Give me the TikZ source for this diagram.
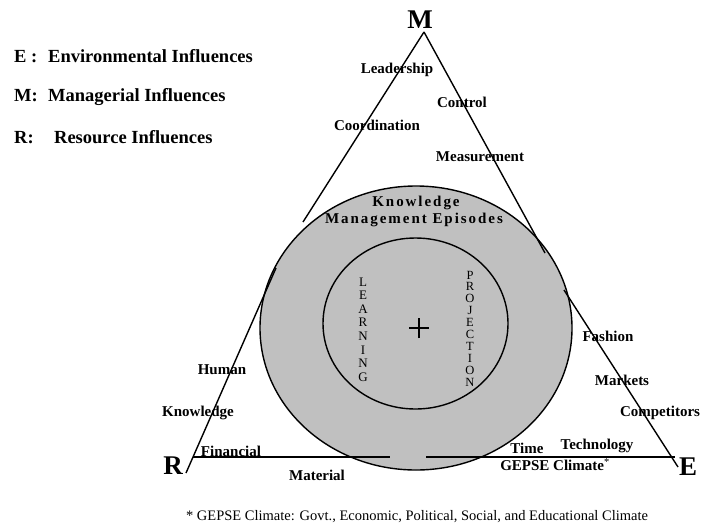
\documentclass[tikz,border=0pt]{standalone}
\usepackage{fontspec}
\setmainfont{Liberation Serif}
\newfontfamily\lsfont[LetterSpace=13]{Liberation Serif}
\begin{document}
\begin{tikzpicture}[x=1pt,y=-1pt,
  edge/.style={line width=1.4pt,black},
  lbl/.style={inner sep=0pt,font=\fontsize{15}{17}\selectfont\bfseries},
  vertex/.style={inner sep=0pt,font=\fontsize{27}{29}\selectfont\bfseries},
  legend/.style={inner sep=0pt,anchor=west,font=\fontsize{18.5}{20}\selectfont\bfseries},
  vert/.style={inner sep=0pt,align=center,font=\fontsize{13}{13.6}\selectfont},
  ring/.style={line width=1.4pt,draw=black}]
\useasboundingbox (0,0) rectangle (701,523);
% legend
\node[legend] (legE) at (14,56) {\makebox[34pt][l]{E :}Environmental Influences};
\node[legend] (legM) at (14,97) {\makebox[34pt][l]{M:}Managerial Influences};
\node[legend] (legR) at (14,137) {\makebox[40pt][l]{R:}Resource Influences};
% circles
\fill[fill={rgb,255:red,192;green,192;blue,192}] (416,328) ellipse [x radius=156, y radius=142];
\draw[ring] (416,328) ellipse [x radius=156, y radius=142];
\draw[ring] (415.5,323.5) ellipse [x radius=92.5, y radius=85.5];
\coordinate (cen) at (419,328);
\draw[line width=1.2pt] ([xshift=-10pt]cen) -- ([xshift=10pt]cen) ([yshift=-10pt]cen) -- ([yshift=10pt]cen);
% triangle
\coordinate (Mtop) at (424,32);
\coordinate (Lt) at (303,222);
\coordinate (Lb) at (276,268);
\coordinate (Rb) at (186,473);
\coordinate (Rt1) at (545,253);
\coordinate (Rt2) at (564,290);
\coordinate (Eb) at (678,467);
\coordinate (B1) at (193,457);
\coordinate (B2) at (390,457);
\coordinate (B3) at (426,457);
\coordinate (B4) at (675,457);
\draw[edge] (Mtop) -- (Lt);
\draw[edge] (Lb) -- (Rb);
\draw[edge] (Mtop) -- (Rt1);
\draw[edge] (Rt2) -- (Eb);
\draw[edge] (B1) -- (B2);
\draw[edge] (B3) -- (B4);
% vertices
\node[vertex] (M) at (420,20) {M};
\node[vertex] (R) at (173,466) {R};
\node[vertex] (E) at (688,467) {E};
% labels
\node[lbl] (lead) at (397,70) {Leadership};
\node[lbl] (ctrl) at (462,102) {Control};
\node[lbl] (coord) at (377,125) {Coordination};
\node[lbl] (meas) at (480,157) {Measurement};
\node[lbl,font=\fontsize{15}{17}\lsfont\bfseries] (kme1) at (416,203) {Knowledge};
\node[lbl,font=\fontsize{15}{17}\lsfont\bfseries] (kme2) at (414,220) {Management Episodes};
\node[vert] (learn) at (363,329.5) {L\\E\\A\\R\\N\\I\\N\\G};
\node[vert,font=\fontsize{12.5}{11.9}\selectfont] (proj) at (470,328.5) {P\\R\\O\\J\\E\\C\\T\\I\\O\\N};
\node[lbl] (hum) at (222,370) {Human};
\node[lbl] (know) at (198,413) {Knowledge};
\node[lbl] (fin) at (231,451) {Financial};
\node[lbl] (mat) at (317,475) {Material};
\node[lbl] (time) at (527,448) {Time};
\node[lbl] (tech) at (597,446) {Technology};
\node[lbl] (gepse) at (555,465) {GEPSE Climate\textsuperscript{\normalfont *}};
\node[lbl] (fash) at (608,336) {Fashion};
\node[lbl] (mark) at (622,380) {Markets};
\node[lbl] (comp) at (660,413) {Competitors};
% footnote
\node[inner sep=0pt,font=\fontsize{14.5}{16}\selectfont] (foot) at (417,517) {* GEPSE Climate: Govt., Economic, Political, Social, and Educational Climate};
\end{tikzpicture}
\end{document}
